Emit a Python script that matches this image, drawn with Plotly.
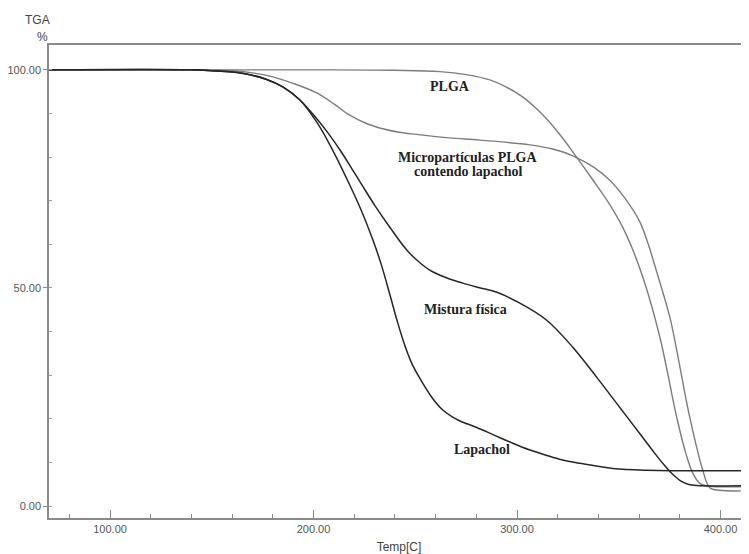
import plotly.graph_objects as go

# PLGA
plga_t = [70, 150, 200, 240, 262.1, 275, 286.6, 295, 302.7, 310, 316, 322, 327.4, 337.2, 346, 353.9, 361.8, 370.2, 378.5, 383, 386.4, 389.8, 394.7, 400, 414]
plga_w = [100, 100, 100, 99.9, 99.6, 98.9, 97.7, 96.0, 93.8, 90.9, 88.0, 84.6, 81.2, 74.8, 68.8, 62.0, 52.5, 38.7, 20.3, 12.0, 7.5, 5.2, 4.5, 4.4, 4.4]

# Micropartículas PLGA contendo lapachol
micro_t = [70, 140, 160, 170, 180, 190, 201.6, 210, 217.8, 226, 234, 242, 250.7, 266.9, 281.7, 306.3, 318, 327.4, 338, 345.6, 353, 360.3, 364.5, 368.7, 375.1, 378.5, 384.9, 391.3, 394.7, 399.6, 414]
micro_w = [100, 100, 99.8, 99.3, 98.4, 96.9, 94.7, 92.2, 89.6, 87.7, 86.5, 85.7, 85.2, 84.4, 83.9, 82.8, 81.8, 80.3, 77.6, 74.7, 70.6, 65.2, 60.0, 53.6, 43.3, 35.7, 20.3, 8.2, 4.2, 3.6, 3.5]

# Lapachol
lap_t = [70, 140, 150, 160, 168.7, 177, 184.9, 193.3, 201.6, 209.5, 217.8, 224, 229, 233, 237.5, 241, 244.5, 248, 252.2, 258, 263.5, 268, 272, 280.2, 289, 297.9, 306, 314.6, 322, 330.8, 347.1, 363.8, 414]
lap_w = [100, 100, 99.8, 99.5, 98.9, 97.8, 96.1, 93.1, 88.0, 81.5, 73.6, 67.2, 61.2, 55.8, 48.5, 42.6, 37.3, 33.0, 29.3, 25.0, 22.0, 20.5, 19.5, 18.0, 16.2, 14.4, 12.9, 11.6, 10.6, 9.8, 8.6, 8.2, 8.1]

# Mistura física
mis_t = [70, 140, 150, 160, 168.7, 177, 184.9, 193.3, 201.6, 207, 213.9, 219, 224.2, 230, 237.5, 245.8, 251, 257.1, 265, 273.4, 282, 290.1, 301.4, 314.6, 327.4, 339.2, 350.5, 361.8, 367, 371.6, 376, 380, 384, 388.3, 414]
mis_w = [100, 100, 99.8, 99.5, 98.9, 97.8, 96.1, 93.1, 88.8, 85.6, 81.0, 77.2, 73.3, 69.0, 63.9, 58.7, 56.3, 54.1, 52.4, 51.1, 50.0, 49.0, 46.5, 42.6, 36.4, 29.5, 22.6, 15.7, 12.5, 9.8, 7.5, 5.9, 5.0, 4.7, 4.7]

x_ticks = [100, 200, 300, 400]
y_ticks = [0, 50, 100]

GRAY = "#7d7d7d"
DARK = "#262626"

fig = go.Figure()
fig.add_trace(go.Scatter(x=plga_t, y=plga_w, mode="lines", line=dict(color=GRAY, width=1.4, shape="spline", smoothing=1.0), name="PLGA"))
fig.add_trace(go.Scatter(x=micro_t, y=micro_w, mode="lines", line=dict(color=GRAY, width=1.4, shape="spline", smoothing=1.0), name="Micro"))
fig.add_trace(go.Scatter(x=lap_t, y=lap_w, mode="lines", line=dict(color=DARK, width=1.5, shape="spline", smoothing=1.0), name="Lapachol"))
fig.add_trace(go.Scatter(x=mis_t, y=mis_w, mode="lines", line=dict(color=DARK, width=1.5, shape="spline", smoothing=1.0), name="Mistura"))

lab_font = dict(family="Liberation Serif", size=14, color="#222")
annos = [
    ("<b>PLGA</b>", 267.0, 96.1),
    ("<b>Micropartículas PLGA</b>", 275.8, 80.0),
    ("<b>contendo lapachol</b>", 276.2, 76.6),
    ("<b>Mistura física</b>", 274.8, 45.1),
    ("<b>Lapachol</b>", 282.7, 13.0),
]
for txt, ax_, ay_ in annos:
    fig.add_annotation(x=ax_, y=ay_, xref="x", yref="y", text=txt, showarrow=False, font=lab_font)

fig.add_annotation(x=-0.017, y=1.053, xref="paper", yref="paper", text="TGA", showarrow=False,
                   font=dict(family="Liberation Sans", size=12, color="#444"), xanchor="center", yanchor="middle")
fig.add_annotation(x=-0.01, y=1.017, xref="paper", yref="paper", text="%", showarrow=False,
                   font=dict(family="Liberation Sans", size=12, color="#444"), xanchor="center", yanchor="middle")

# page body has an 8px margin, so the figure is sized to fit inside the window
fig.update_layout(
    width=741, height=546,
    margin=dict(l=41, r=0, t=37, b=36, autoexpand=False),
    paper_bgcolor="white", plot_bgcolor="white",
    showlegend=False,
    xaxis=dict(
        range=[70, 414], tickmode="array", tickvals=x_ticks,
        ticktext=[f"{v:.2f}" for v in x_ticks],
        ticks="inside", ticklen=8, tickcolor="#888", tickwidth=1,
        minor=dict(dtick=20, tick0=0, ticks="inside", ticklen=4, tickcolor="#888"),
        showline=True, linecolor="#8a8a8a", linewidth=1.5, mirror=True,
        showgrid=False, zeroline=False, automargin=False,
        tickfont=dict(family="Liberation Sans", size=11, color="#555"),
        title=dict(text="Temp[C]", font=dict(family="Liberation Sans", size=12, color="#444"), standoff=9),
    ),
    yaxis=dict(
        range=[-2.75, 105.7], tickmode="array", tickvals=y_ticks,
        ticktext=[f"{v:.2f}" for v in y_ticks],
        ticks="outside", ticklen=4, tickcolor="#888",
        minor=dict(dtick=10, tick0=0, ticks="inside", ticklen=3, tickcolor="#999"),
        showline=True, linecolor="#8a8a8a", linewidth=1.5,
        showgrid=False, zeroline=False, automargin=False,
        tickfont=dict(family="Liberation Sans", size=11, color="#555"),
    ),
)

fig.write_html("out.html")
